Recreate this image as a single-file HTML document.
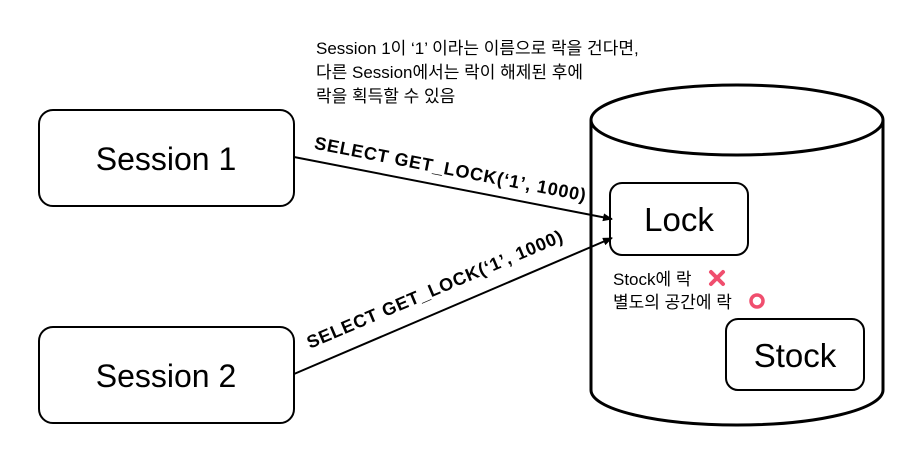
<!DOCTYPE html>
<html><head><meta charset="utf-8"><style>
body{margin:0;background:#fff;}
</style></head><body>
<svg width="913" height="456" xmlns="http://www.w3.org/2000/svg" font-family="Liberation Sans, Noto Sans CJK KR, sans-serif">
<defs><marker id="a" markerWidth="10" markerHeight="8" refX="9" refY="4" orient="auto" markerUnits="userSpaceOnUse"><path d="M0,0 L10,4 L0,8 Z" fill="#000"/></marker></defs>
<rect width="913" height="456" fill="#fff"/>
<text font-size="17" fill="#000"><tspan x="316" y="54">Session 1이 ‘1’ 이라는 이름으로 락을 건다면,</tspan><tspan x="316" y="78">다른 Session에서는 락이 해제된 후에</tspan><tspan x="316" y="102">락을 획득할 수 있음</tspan></text>
<rect x="39" y="110" width="255" height="96" rx="14" fill="#fff" stroke="#000" stroke-width="2"/>
<text x="166" y="170" font-size="32" text-anchor="middle">Session 1</text>
<rect x="39" y="327" width="255" height="96" rx="14" fill="#fff" stroke="#000" stroke-width="2"/>
<text x="166" y="387" font-size="32" text-anchor="middle">Session 2</text>
<path d="M591,120 L591,390 A146,35 0 0 0 883,390 L883,120" fill="#fff" stroke="#000" stroke-width="3"/>
<ellipse cx="737" cy="120" rx="146" ry="35" fill="#fff" stroke="#000" stroke-width="3"/>
<rect x="610" y="183" width="138" height="72" rx="12" fill="#fff" stroke="#000" stroke-width="2"/>
<text x="679" y="231" font-size="33" text-anchor="middle">Lock</text>
<rect x="726" y="319" width="138" height="71" rx="12" fill="#fff" stroke="#000" stroke-width="2"/>
<text x="795" y="367" font-size="33" text-anchor="middle">Stock</text>
<text font-size="17"><tspan x="613" y="285">Stock에 락</tspan><tspan x="613" y="308">별도의 공간에 락</tspan></text>
<path d="M711,272 L723,284 M723,272 L711,284" stroke="#f04e6e" stroke-width="4" stroke-linecap="round"/>
<circle cx="757" cy="301" r="6" fill="none" stroke="#f04e6e" stroke-width="3.5"/>
<line x1="294" y1="157" x2="612" y2="219" stroke="#000" stroke-width="2" marker-end="url(#a)"/>
<line x1="294" y1="374" x2="612" y2="238" stroke="#000" stroke-width="2" marker-end="url(#a)"/>
<text transform="translate(449,175) rotate(11)" font-size="18" font-weight="bold" text-anchor="middle" textLength="276">SELECT GET_LOCK(‘1’, 1000)</text>
<text transform="translate(437,295) rotate(-23)" font-size="18" font-weight="bold" text-anchor="middle" textLength="276">SELECT GET_LOCK(‘1’, 1000)</text>
</svg>
</body></html>
